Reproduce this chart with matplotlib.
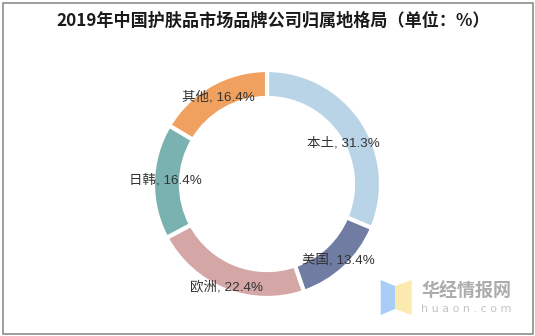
import matplotlib
matplotlib.use("Agg")
import matplotlib.pyplot as plt
from matplotlib.patches import Rectangle, Polygon
import numpy as np

categories = ["本土", "美国", "欧洲", "日韩", "其他"]
values = [31.3, 13.4, 22.4, 16.4, 16.4]
colors = ["#b9d4e6", "#717ca3", "#d4a6a6", "#7ab1b1", "#f0a05f"]
title = "2019年中国护肤品市场品牌公司归属地格局（单位：%）"

W, H = 535, 336
fig = plt.figure(figsize=(W / 100, H / 100), dpi=100)
fig.patch.set_facecolor("white")

# frame
fig.add_artist(Rectangle((2.5 / W, 2.5 / H), (W - 5) / W, (H - 5) / H,
                         transform=fig.transFigure, fill=False,
                         edgecolor="#8c8c8c", linewidth=1.2))

fig.text(273 / W, 1 - 21 / H, title, ha="center", va="center",
         fontsize=12.3, fontweight="bold", color="#1a1a1a",
         family=["Noto Sans CJK SC", "DejaVu Sans"])

cx, cy, R = 267, 336 - 184, 114
ax = fig.add_axes([(cx - R) / W, (cy - R) / H, 2 * R / W, 2 * R / H])
ax.set_aspect("equal")
ax.axis("off")
width = 0.245
wedges, _ = ax.pie(values, colors=colors, startangle=90, counterclock=False,
                   radius=1, wedgeprops=dict(width=width, edgecolor="white",
                                             linewidth=3))
ax.set_xlim(-1, 1)
ax.set_ylim(-1, 1)

label_r = [0.76, 0.92, 0.97, 0.89, 0.87]
label_dth = [-5.3, 0, 0, -1, 0]
for w, cat, v, r, d in zip(wedges, categories, values, label_r, label_dth):
    th = np.deg2rad((w.theta1 + w.theta2) / 2 + d)
    ax.text(r * np.cos(th), r * np.sin(th), f"{cat}, {v}%", ha="center",
            va="center", fontsize=9.7, color="#333333",
            family=["Liberation Sans", "Noto Sans CJK SC"])

# watermark logo
fig.add_artist(Polygon([(380.7 / W, 1 - 280 / H), (395 / W, 1 - 286 / H),
                        (395 / W, 1 - 309 / H), (380.7 / W, 1 - 315 / H)],
                       closed=True, transform=fig.transFigure,
                       facecolor="#a9cdf7", edgecolor="none"))
fig.add_artist(Polygon([(395 / W, 1 - 286 / H), (411.7 / W, 1 - 280 / H),
                        (411.7 / W, 1 - 315 / H), (395 / W, 1 - 309 / H)],
                       closed=True, transform=fig.transFigure,
                       facecolor="#fbeab0", edgecolor="none"))
fig.text(466 / W, 1 - 291 / H, "华经情报网", ha="center", va="center",
         fontsize=13, fontweight="bold", color="#acacac",
         family=["Noto Sans CJK SC"])
fig.text(466.5 / W, 1 - 308.5 / H, "h u a o n . c o m", ha="center", va="center",
         fontsize=8, color="#c4c4c4", family=["DejaVu Sans"])

fig.savefig("out.png", dpi=100, facecolor="white")
